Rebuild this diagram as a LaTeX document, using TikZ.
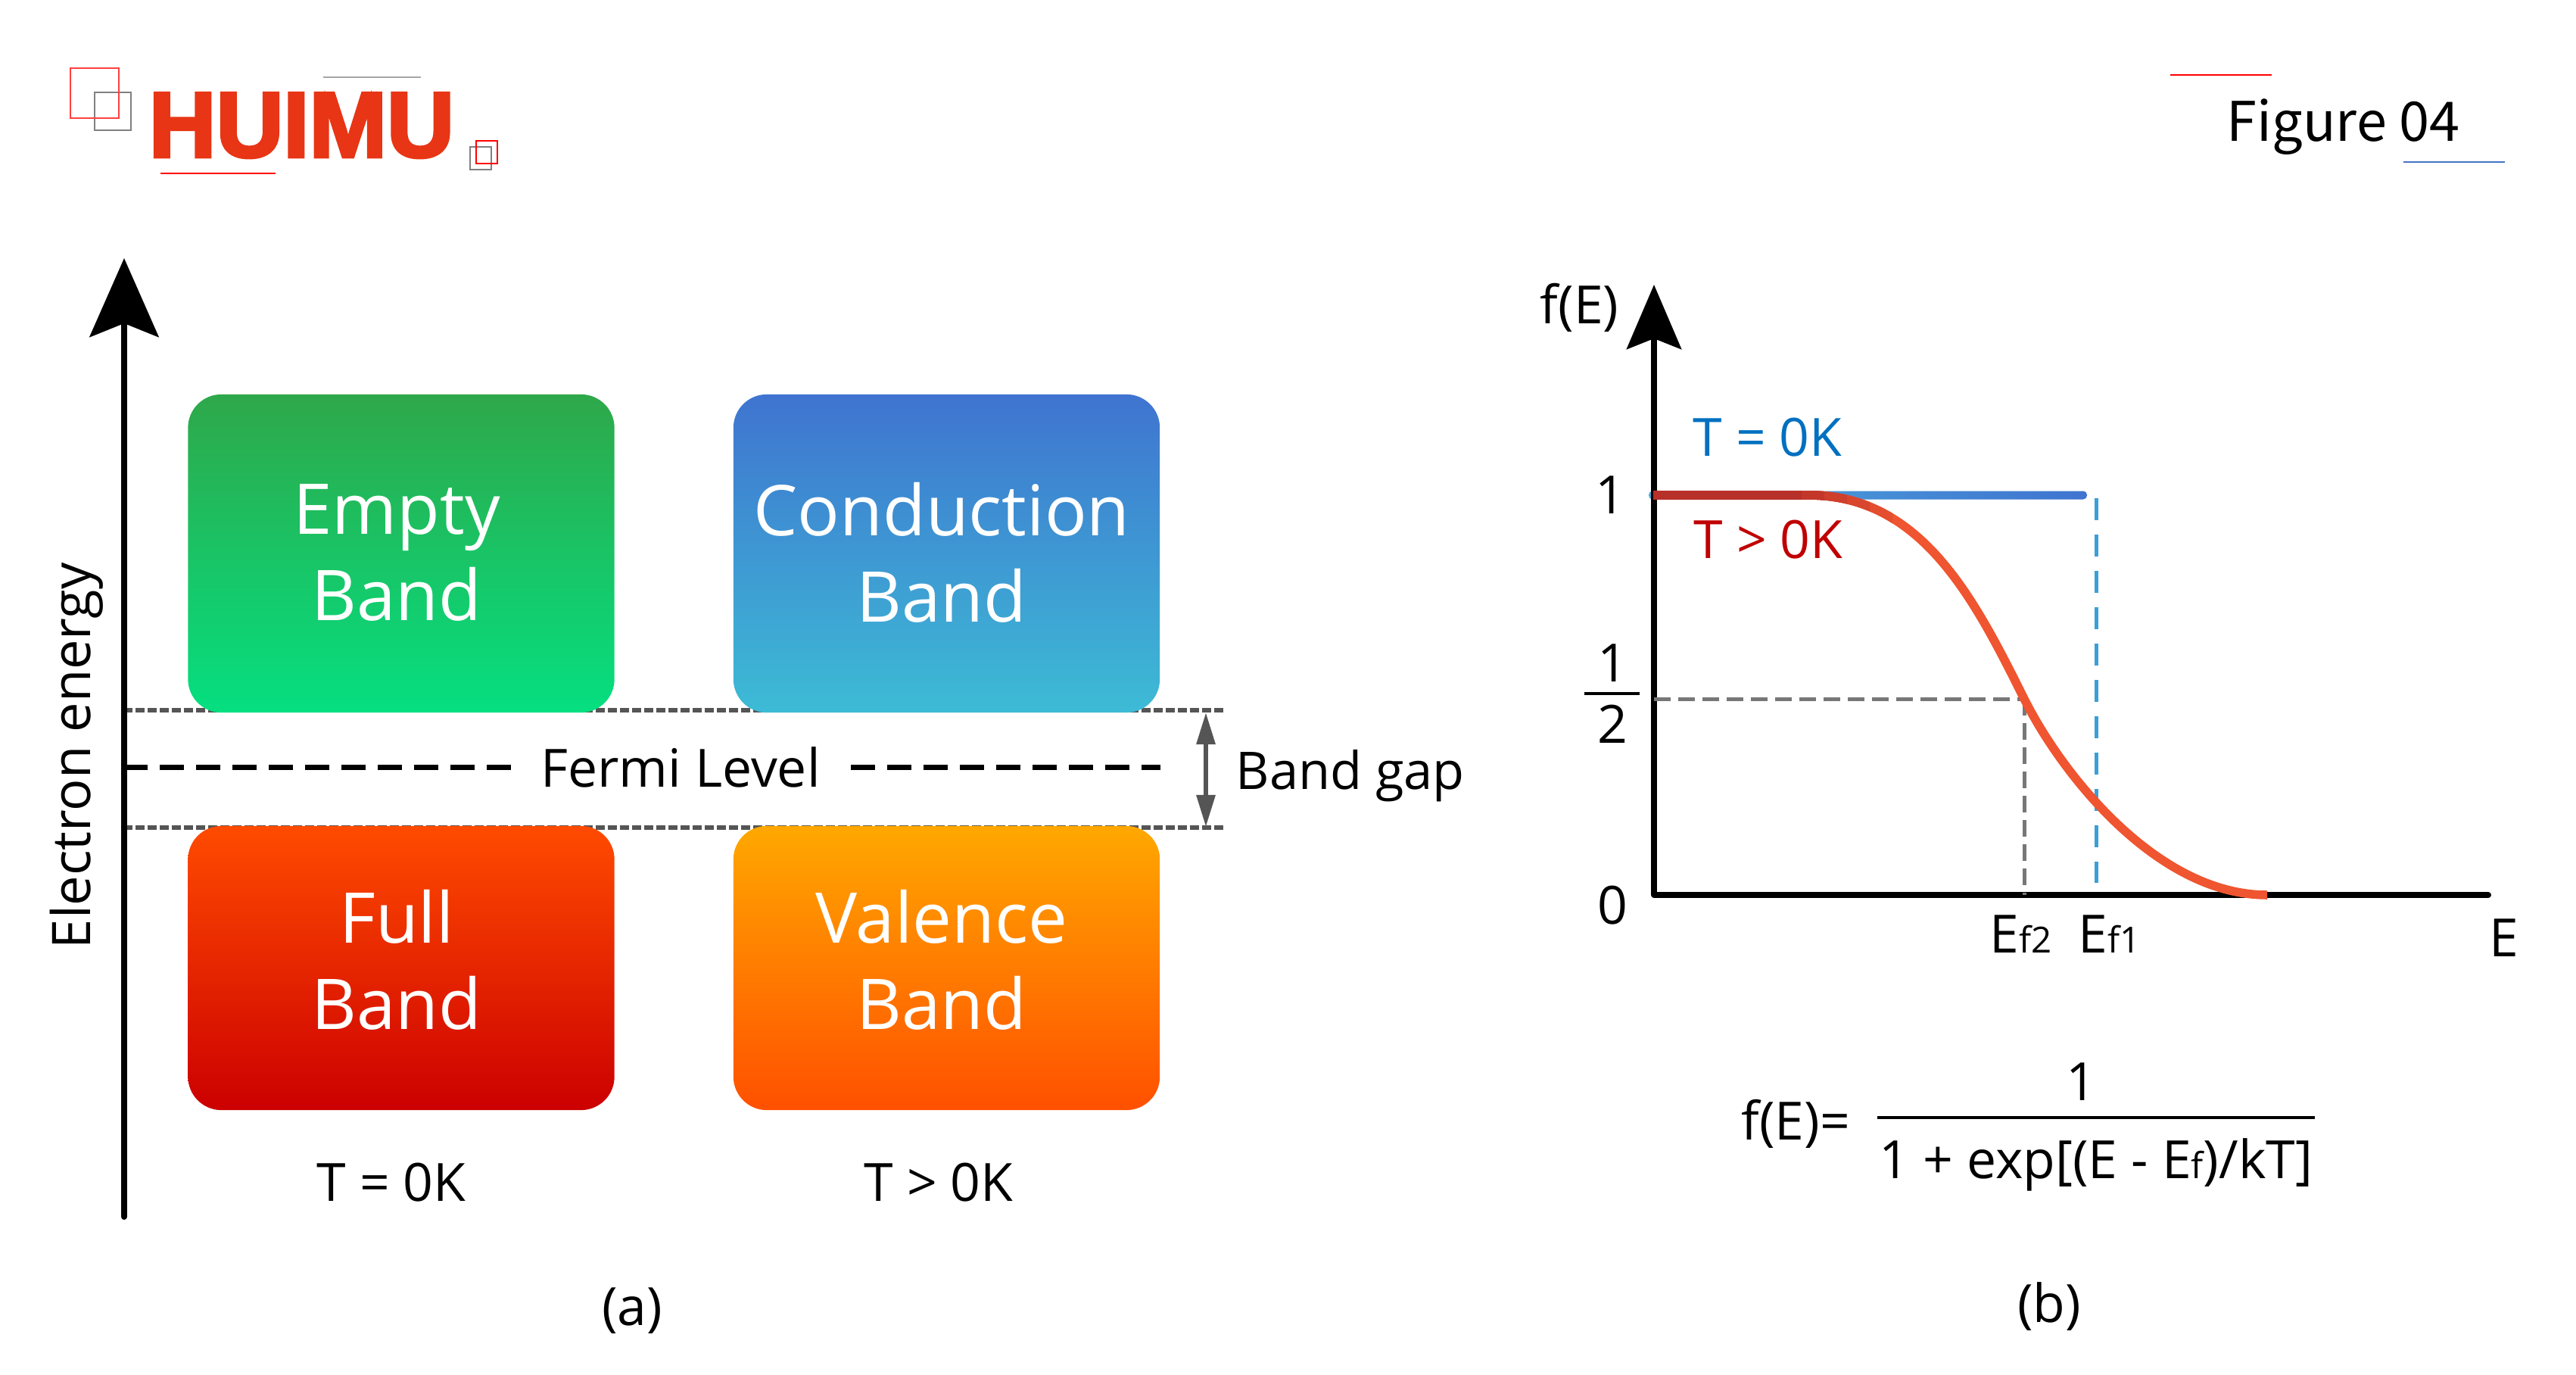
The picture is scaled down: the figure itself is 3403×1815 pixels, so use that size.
\documentclass[tikz,border=0pt]{standalone}
\usepackage{fontspec}
\setmainfont{Open Sans}
\newfontfamily\figfont{Noto Sans CJK SC}
\newfontfamily\logofont[FakeBold=3.5]{Liberation Sans}
\usetikzlibrary{arrows.meta}
\definecolor{logored}{HTML}{E83515}
\definecolor{gapgrey}{HTML}{555555}
\definecolor{guidegrey}{HTML}{777777}
\definecolor{guideblue}{HTML}{3A9FD8}
\definecolor{tblue}{HTML}{0070C0}
\definecolor{tred}{HTML}{C00000}
\definecolor{curvered}{HTML}{EF5530}
\definecolor{curvedark}{HTML}{B8302A}
\definecolor{emptytop}{HTML}{2EA84A}
\definecolor{emptybot}{HTML}{05DF80}
\definecolor{condtop}{HTML}{3F74D0}
\definecolor{condbot}{HTML}{3DBBD5}
\definecolor{fulltop}{HTML}{FF4B00}
\definecolor{fullbot}{HTML}{CC0000}
\definecolor{valtop}{HTML}{FFA800}
\definecolor{valbot}{HTML}{FF5000}
\definecolor{lineblue}{HTML}{4472C4}
\newcommand{\smallsub}[1]{{\fontsize{13.5}{14}\selectfont #1}}
\newcommand{\fermicurve}{(2184,654) -- (2390,654) .. controls (2540,654) and (2610,795) .. (2674,923) .. controls (2724,1023) and (2850,1182) .. (2995,1182)}
\tikzset{
  bandbox/.style={rounded corners=.44cm, minimum width=5.63cm, inner sep=0pt},
  bandlab/.style={align=center, text=white, font=\fontsize{26.3}{32.4}\selectfont, inner sep=0pt},
  lab/.style={inner sep=0pt, font=\fontsize{19.8}{23}\selectfont, anchor=base},
  bigaxis/.style={line width=.08cm, line cap=round, -{Stealth[length=1.04cm,width=.91cm,inset=.18cm]}},
  smallaxis/.style={line width=.08cm, -{Stealth[length=.85cm,width=.72cm,inset=.14cm]}},
  gapline/.style={gapgrey, line width=.055cm, dash pattern=on .12cm off .04cm},
  fermiline/.style={line width=.07cm, dash pattern=on .32cm off .16cm},
  guide/.style={guidegrey, line width=.05cm, dash pattern=on .22cm off .1cm},
}
\begin{document}
\begin{tikzpicture}[x=.01cm,y=-.01cm]
\useasboundingbox (0,0) rectangle (3403,1815);
% logo
\draw[gray, line width=.012cm] (125,122) rectangle (173,172);
\draw[red!75, line width=.016cm] (93,90) rectangle (157,156);
\draw[gray, line width=.012cm] (621,194) rectangle (649,224);
\draw[red, line width=.012cm] (629,186) rectangle (657,216);
\draw[gray!70, line width=.012cm] (427,102) -- (556,102);
\draw[red, line width=.012cm] (212,229) -- (364,229);
\node[inner sep=0pt, anchor=south west, text=logored] (logo) at (196,209) {\resizebox{4.03cm}{.84cm}{\logofont\bfseries HUIMU}};
% title
\draw[red, line width=.016cm] (2867,99) -- (3001,99);
\draw[lineblue, line width=.016cm] (3175,214) -- (3309,214);
\node[inner sep=0pt, anchor=base west] (title) at (2941,186) {\figfont\fontsize{20.5}{24}\selectfont Figure 04};
% (a)
\coordinate (gapta) at (163,938);
\coordinate (gaptb) at (1616,938);
\coordinate (gapba) at (163,1093);
\coordinate (gapbb) at (1616,1093);
\draw[gapline] (gapta) -- (gaptb);
\draw[gapline] (gapba) -- (gapbb);
\coordinate (eo) at (164,1607);
\coordinate (et) at (164,341);
\draw[bigaxis] (eo) -- (et);
\node[rotate=90, lab, font=\fontsize{20}{24}\selectfont] (energy) at (120,998) {Electron energy};
\node[bandbox, minimum height=4.2cm, top color=emptytop, bottom color=emptybot] (empty) at (530,731) {};
\node[bandbox, minimum height=4.2cm, top color=condtop, bottom color=condbot] (cond) at (1250.5,731) {};
\node[bandbox, minimum height=3.75cm, top color=fulltop, bottom color=fullbot] (full) at (530,1278.5) {};
\node[bandbox, minimum height=3.75cm, top color=valtop, bottom color=valbot] (val) at (1250.5,1278.5) {};
\node[bandlab] (emptylab) at (524,730) {Empty\\Band};
\node[bandlab] (condlab) at (1244,730) {Conduction\\Band};
\node[bandlab] (fulllab) at (524,1268) {Full\\Band};
\node[bandlab] (vallab) at (1244,1268) {Valence\\Band};
\node[lab] (fermi) at (899,1039) {Fermi Level};
\coordinate (fa) at (163,1013);
\coordinate (fb) at (675,1013);
\coordinate (fc) at (1124,1013);
\coordinate (fd) at (1533,1013);
\draw[fermiline] (fa) -- (fb);
\draw[fermiline] (fc) -- (fd);
\coordinate (gu) at (1593,941);
\coordinate (gd) at (1593,1092);
\draw[gapgrey, line width=.06cm, {Stealth[length=.42cm,width=.24cm,inset=0pt]}-{Stealth[length=.42cm,width=.24cm,inset=0pt]}] (gu) -- (gd);
\node[lab, anchor=base west, font=\fontsize{19.5}{23}\selectfont] (gap) at (1632,1042) {Band gap};
\node[lab] (tzero) at (517,1586) {T = 0K};
\node[lab] (tpos) at (1240,1586) {T > 0K};
\node[lab] (parta) at (835,1750) {(a)};
\node[lab] (partb) at (2707,1746) {(b)};
% (b)
\shade[left color=guideblue!90, right color=condtop, rounded corners=.05cm] (2178,648.5) rectangle (2757,659.5);
\coordinate (yo) at (2185,1182);
\coordinate (yt) at (2185,376);
\coordinate (xe) at (3287,1182);
\draw[smallaxis] (yo) -- (yt);
\draw[line width=.08cm, line cap=round] (yo) -- (xe);
\coordinate (halfa) at (2185,923);
\coordinate (halfb) at (2674,923);
\coordinate (halfc) at (2674,1182);
\draw[guide] (halfa) -- (halfb);
\draw[guide] (halfb) -- (halfc);
\coordinate (efa) at (2769,658);
\coordinate (efb) at (2769,1166);
\draw[guideblue, line width=.05cm, dash pattern=on .29cm off .19cm] (efa) -- (efb);
\draw[curvered, line width=.115cm] \fermicurve;
\foreach \xend/\pct in {2500/80,2470/60,2440/40,2410/20,2380/0}{
  \begin{scope}
  \clip (2170,640) rectangle (\xend,720);
  \draw[curvered!\pct!curvedark, line width=.115cm] \fermicurve;
  \end{scope}
}
\node[lab, text=tblue] (tb) at (2335,602) {T = 0K};
\node[lab, text=tred] (tr) at (2336,737) {T > 0K};
\node[lab] (one) at (2127,678) {1};
\node[lab] (num) at (2130,900) {1};
\coordinate (ba) at (2093,916);
\coordinate (bb) at (2166,916);
\draw[line width=.035cm] (ba) -- (bb);
\node[lab] (two) at (2130,981) {2};
\node[lab] (zero) at (2130,1220) {0};
\node[lab, anchor=base east] (fe) at (2139,427) {f(E)};
\node[lab, anchor=base west] (eftwo) at (2628,1258) {E\smallsub{f2}};
\node[lab, anchor=base west] (efone) at (2745,1258) {E\smallsub{f1}};
\node[lab, anchor=base west] (elab) at (3288,1263) {E};
\node[lab, anchor=base west] (fof) at (2300,1505) {f(E)=};
\coordinate (fra) at (2480,1476);
\coordinate (frb) at (3058,1476);
\draw[line width=.04cm] (fra) -- (frb);
\node[lab] (fnum) at (2749,1453) {1};
\node[lab, anchor=base west] (fden) at (2482,1556) {1 + exp[(E - E\smallsub{f})/kT]};
\end{tikzpicture}
\end{document}
